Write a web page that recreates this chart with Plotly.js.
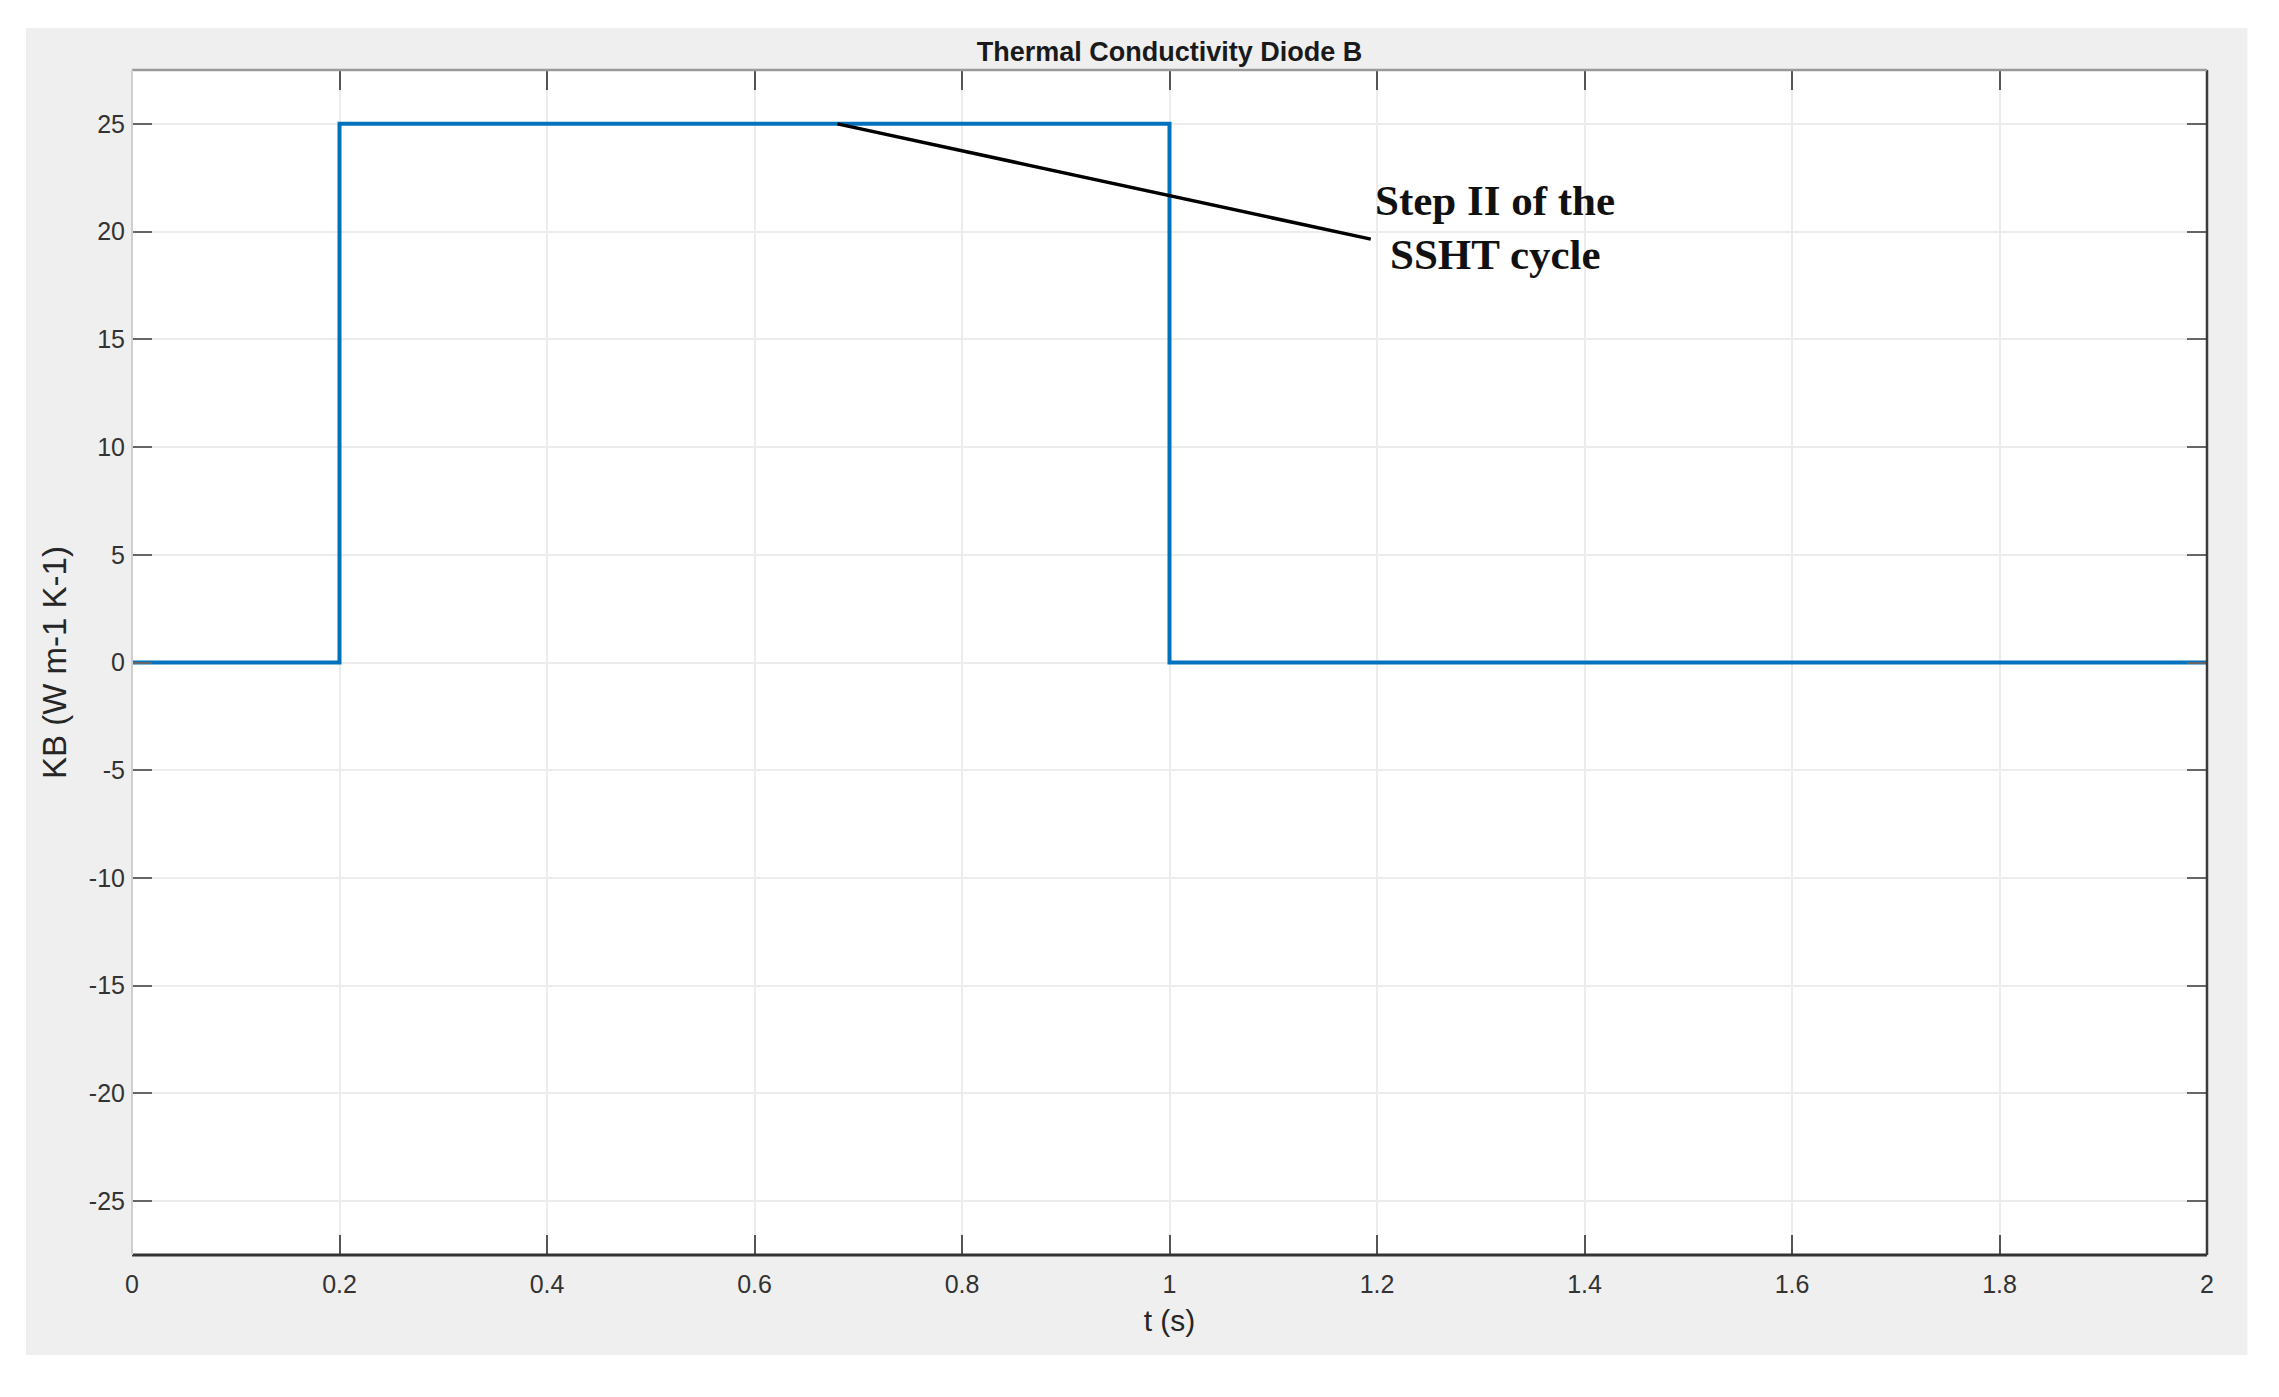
<!DOCTYPE html>
<html>
<head>
<meta charset="utf-8">
<script src="https://cdn.plot.ly/plotly-3.0.1.min.js"></script>
<style>html,body{margin:0;padding:0;background:#fff;}#chart{width:2279px;height:1397px;}</style>
</head>
<body>
<div id="chart"></div>
<script>
// Data (step signal, drawn with line.shape 'hv')
const timeS = [0, 0.2, 1, 2];
const kbValues = [0, 25, 0, 0];
const xTickVals = [0, 0.2, 0.4, 0.6, 0.8, 1, 1.2, 1.4, 1.6, 1.8, 2];
const xTickText = ["0", "0.2", "0.4", "0.6", "0.8", "1", "1.2", "1.4", "1.6", "1.8", "2"];
const yTickVals = [-25, -20, -15, -10, -5, 0, 5, 10, 15, 20, 25];
const yTickText = ["-25", "-20", "-15", "-10", "-5", "0", "5", "10", "15", "20", "25"];
const calloutLine1 = "Step II of the";
const calloutLine2 = "SSHT cycle";
const calloutTip = [0.68, 25];
const calloutTail = [1.194, 19.65];
const calloutLabel1 = [1.314, 21.45];
const calloutLabel2 = [1.314, 18.95];

const tickFont = {family: "Liberation Sans, Arial, sans-serif", size: 25, color: "#333333"};
const calloutFont = {family: "Liberation Serif, DejaVu Serif, serif", size: 43, color: "#111111"};

const trace = {
  x: timeS, y: kbValues, type: "scatter", mode: "lines",
  line: {color: "#0072BD", width: 4, shape: "hv"},
  hoverinfo: "skip", showlegend: false
};

const layout = {
  width: 2279, height: 1397,
  margin: {l: 132, r: 72, t: 70, b: 142},
  paper_bgcolor: "#ffffff", plot_bgcolor: "#ffffff",
  showlegend: false,
  title: {
    text: "<b>Thermal Conductivity Diode B</b>",
    font: {family: "Liberation Sans, Arial, sans-serif", size: 27, color: "#1a1a1a"},
    x: 0.5, xref: "paper", xanchor: "center",
    y: 1 - 52/1397, yanchor: "middle"
  },
  xaxis: {
    range: [0, 2], tickmode: "array", tickvals: xTickVals, ticktext: xTickText,
    ticks: "inside", ticklen: 20, tickwidth: 2, tickcolor: "#555555", mirror: "ticks",
    showline: false, zeroline: false,
    showgrid: true, gridcolor: "#ececec", gridwidth: 2,
    tickfont: tickFont, ticklabelstandoff: 12,
    title: {text: "t (s)", font: {family: "Liberation Sans, Arial, sans-serif", size: 30, color: "#262626"}, standoff: 12}
  },
  yaxis: {
    range: [-27.5, 27.5], tickmode: "array", tickvals: yTickVals, ticktext: yTickText,
    ticks: "inside", ticklen: 20, tickwidth: 2, tickcolor: "#666666", mirror: "ticks",
    showline: false, zeroline: false,
    showgrid: true, gridcolor: "#ececec", gridwidth: 2,
    tickfont: tickFont, ticklabelstandoff: 6,
    title: {text: "KB (W m-1 K-1)", font: {family: "Liberation Sans, Arial, sans-serif", size: 33, color: "#262626"}, standoff: 12}
  },
  shapes: [
    // gray figure panel
    {type: "rect", xref: "paper", yref: "paper", x0: -0.0511, x1: 1.0195, y0: -0.0844, y1: 1.0354,
     fillcolor: "#efefef", line: {width: 0}, layer: "below"},
    // white axes background
    {type: "rect", xref: "paper", yref: "paper", x0: 0, x1: 1, y0: 0, y1: 1,
     fillcolor: "#ffffff", line: {width: 0}, layer: "below"},
    // axes box
    {type: "line", xref: "paper", yref: "paper", x0: 0, x1: 1, y0: 0, y1: 0, line: {color: "#333333", width: 3}, layer: "above"},
    {type: "line", xref: "paper", yref: "paper", x0: 1, x1: 1, y0: 0, y1: 1, line: {color: "#3a3a3a", width: 2.5}, layer: "above"},
    {type: "line", xref: "paper", yref: "paper", x0: 0, x1: 1, y0: 1, y1: 1, line: {color: "#9a9a9a", width: 2.5}, layer: "above"},
    {type: "line", xref: "paper", yref: "paper", x0: 0, x1: 0, y0: 0, y1: 1, line: {color: "#cfcfcf", width: 2}, layer: "above"},
    // callout leader line
    {type: "line", xref: "x", yref: "y", x0: calloutTip[0], y0: calloutTip[1], x1: calloutTail[0], y1: calloutTail[1],
     line: {color: "#000000", width: 3.5}, layer: "above"}
  ],
  annotations: [
    {x: calloutLabel1[0], y: calloutLabel1[1], xref: "x", yref: "y", text: "<b>" + calloutLine1 + "</b>",
     showarrow: false, xanchor: "center", yanchor: "middle", font: calloutFont},
    {x: calloutLabel2[0], y: calloutLabel2[1], xref: "x", yref: "y", text: "<b>" + calloutLine2 + "</b>",
     showarrow: false, xanchor: "center", yanchor: "middle", font: calloutFont}
  ]
};

Plotly.newPlot("chart", [trace], layout, {displayModeBar: false, staticPlot: true});
</script>
</body>
</html>
